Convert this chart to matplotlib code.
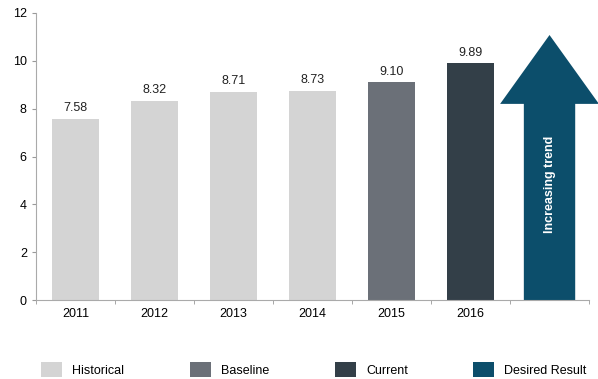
import matplotlib.pyplot as plt
from matplotlib.patches import Patch
import numpy as np

plt.rcParams['font.family'] = ['Liberation Sans', 'DejaVu Sans']

# Data
years = ['2011', '2012', '2013', '2014', '2015', '2016']
values = [7.58, 8.32, 8.71, 8.73, 9.10, 9.89]
groups = ['Historical', 'Historical', 'Historical', 'Historical', 'Baseline', 'Current']
colors = {
    'Historical': '#d4d4d4',
    'Baseline': '#6b7078',
    'Current': '#333f48',
    'Desired Result': '#0c4e6b',
}
arrow_top = 11.08
arrow_head_base = 8.2
arrow_label = 'Increasing trend'

fig = plt.figure(figsize=(5.98, 3.79), dpi=100)
ax = fig.add_axes([0.060, 0.2084, 0.925, 0.7573])

x = np.arange(len(years))
bars = ax.bar(x, values, width=0.6, color=[colors[g] for g in groups])
for xi, v in zip(x, values):
    ax.text(xi, v + 0.2, f"{v:.2f}", ha='center', va='bottom', fontsize=9, color='#222222')

# Arrow in the 7th slot
ax_x = len(years)
ax.arrow(ax_x, 0, 0, arrow_top, width=0.65, head_width=1.25,
         head_length=arrow_top - arrow_head_base, length_includes_head=True,
         color=colors['Desired Result'], clip_on=False, lw=0)
ax.text(ax_x, arrow_head_base * 0.59, arrow_label, rotation=90, ha='center', va='center',
        color='white', fontsize=9, fontweight='bold')

ax.set_xlim(-0.5, len(years) + 0.5)
ax.set_ylim(0, 12)
ax.set_yticks(range(0, 13, 2))
ax.set_xticks(x)
ax.set_xticklabels(years)
ax.set_xticks(np.arange(-0.5, len(years) + 1, 1), minor=True)
ax.tick_params(axis='x', which='major', length=0, labelsize=9, pad=6)
ax.tick_params(axis='x', which='minor', length=3, color='#999999')
ax.tick_params(axis='y', length=3, color='#999999', labelsize=9)
for s in ['top', 'right']:
    ax.spines[s].set_visible(False)
for s in ['left', 'bottom']:
    ax.spines[s].set_color('#aaaaaa')

handles = [Patch(facecolor=colors[k], edgecolor='none') for k in colors]
fig.legend(handles, list(colors.keys()), loc='lower left', ncol=4, frameon=False,
           bbox_to_anchor=(0.05, -0.025, 0.95, 0.07), mode='expand', fontsize=9,
           handlelength=1.7, handleheight=1.5, handletextpad=0.8)

fig.savefig('out.png', dpi=100)
